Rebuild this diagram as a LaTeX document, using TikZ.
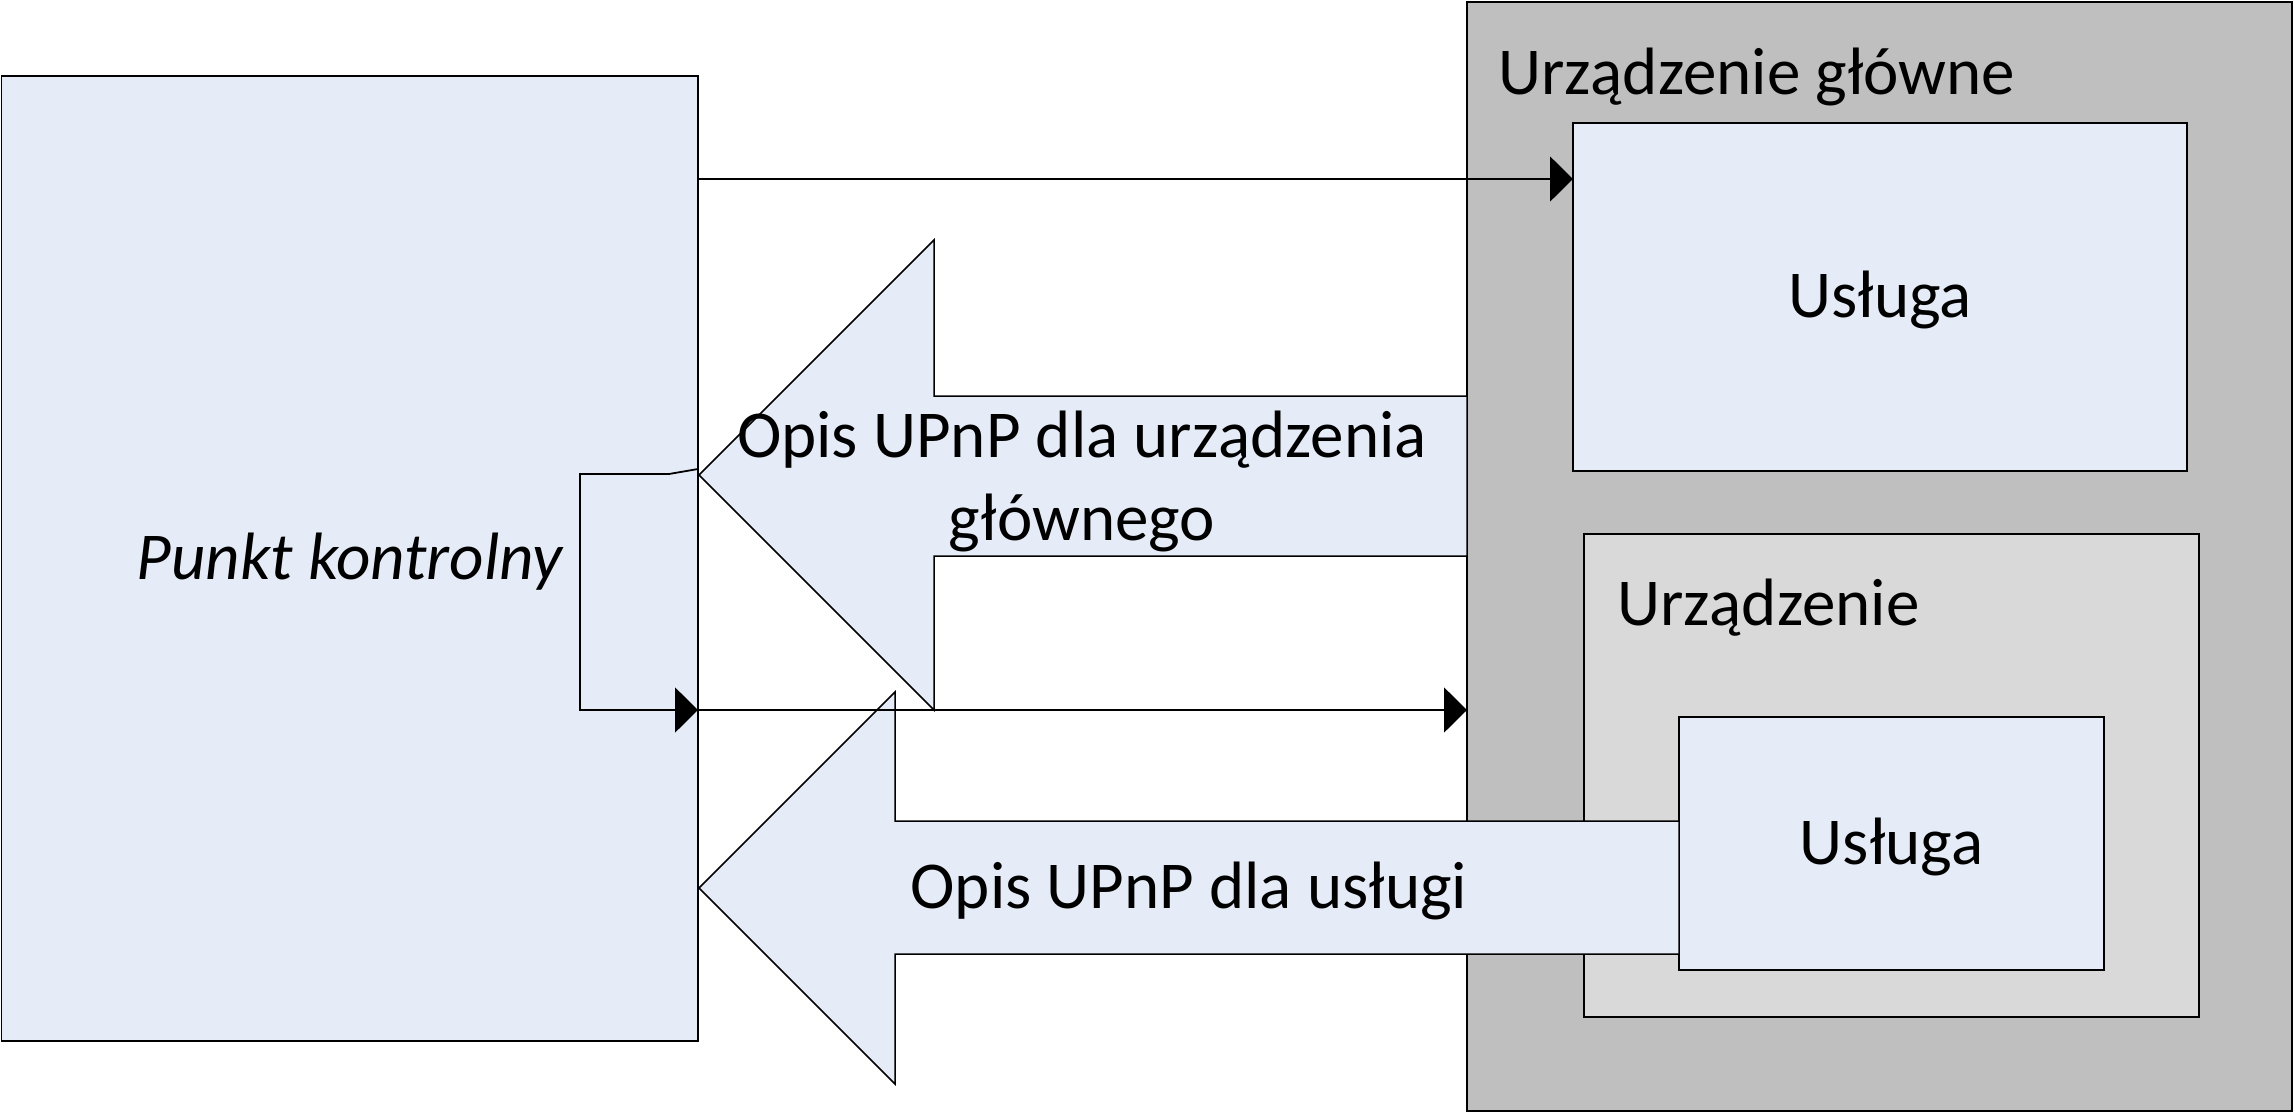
\documentclass[tikz,border=0pt]{standalone}
\usepackage{fontspec}
\setmainfont{Carlito}
\usetikzlibrary{arrows.meta}
\definecolor{lblue}{HTML}{E6ECF7}
\definecolor{dgray}{HTML}{BFBFBF}
\definecolor{lgray}{HTML}{D9D9D9}
\begin{document}
\begin{tikzpicture}[x=1pt,y=-1pt,line join=miter,
  box/.style={draw=black,line width=1.8pt,rectangle,inner sep=0pt,outer sep=0pt,anchor=north west},
  txt/.style={font=\fontsize{67}{83}\selectfont},
  lbl/.style={inner sep=0pt,outer sep=0pt,txt},
  ctr/.style={lbl,yshift=-3pt},
  conn/.style={draw=black,line width=1.8pt},
  tip/.style={-{Triangle[length=23pt,width=45pt]}},
  blockarrow/.style={draw=black,line width=1.5pt,fill=lblue}]
\useasboundingbox (0,0) rectangle (2295,1114);
% boxes
\node[box,fill=lblue,minimum width=696.5pt,minimum height=965pt] (pk) at (1.5,76) {};
\node[ctr,font=\fontsize{67}{83}\selectfont\itshape] (pkt) at (pk.center) {Punkt kontrolny};
\node[box,fill=dgray,minimum width=825pt,minimum height=1109pt] (main) at (1467,1.7) {};
\node[lbl,anchor=base west] (maint) at (1498,94) {Urządzenie główne};
\node[box,fill=lblue,minimum width=614pt,minimum height=348pt] (us1) at (1573,122.7) {};
\node[ctr] (us1t) at (us1.center) {Usługa};
\node[box,fill=lgray,minimum width=615pt,minimum height=483pt] (dev) at (1584,533.7) {};
\node[lbl,anchor=base west] (devt) at (1617,625) {Urządzenie};
\node[box,fill=lblue,minimum width=425pt,minimum height=253pt] (us2) at (1679,717) {};
\node[ctr] (us2t) at (us2.center) {Usługa};
% block arrow 2 (service description)
\coordinate (b2tip) at (699,888);
\path[blockarrow] (b2tip) -- (895,692) -- (895,821) -- (us2.west |- 0,821) -- (us2.west |- 0,954) -- (895,954) -- (895,1084) -- cycle;
\node[ctr] (b2t) at (1189,888) {Opis UPnP dla usługi};
% block arrow 1 (root device description)
\coordinate (b1tip) at (699,475);
\path[blockarrow] (b1tip) -- (934,240) -- (934,396) -- (main.west |- 0,396) -- (main.west |- 0,556) -- (934,556) -- (934,710) -- cycle;
\node[lbl,align=center] (b1t) at (1082,481) {Opis UPnP dla urządzenia\\głównego};
% connectors
\coordinate (c1s) at (pk.east |- 0,179);
\draw[conn,tip] (c1s) -- (us1.west |- c1s);
\coordinate (k0) at (pk.east |- 0,469);
\coordinate (k1) at (669,474);
\coordinate (k2) at (580,474);
\coordinate (k3) at (580,710);
\coordinate (k4) at (pk.east |- 0,710);
\draw[conn,tip] (k0) -- (k1) -- (k2) -- (k3) -- (k4);
\draw[conn,tip] (k4) -- (main.west |- k4);
\end{tikzpicture}
\end{document}
